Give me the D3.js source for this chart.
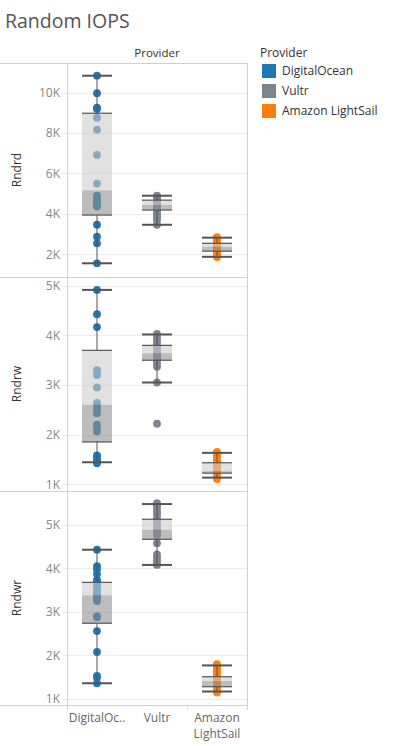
<!DOCTYPE html>
<html>
<head>
<meta charset="utf-8">
<script src="https://cdn.jsdelivr.net/npm/d3@7"></script>
<style>
  body { margin: 0; background: #fff; }
  text { font-family: "Open Sans", sans-serif; }
</style>
</head>
<body>
<div id="chart"></div>
<script>
// providers + colours
var providers = ["DigitalOcean", "Vultr", "Amazon LightSail"],
    providerLabels = [["DigitalOc.."], ["Vultr"], ["Amazon", "LightSail"]],
    colors = ["#1f77b4", "#7b848f", "#ff7f0e"];

var measures = ["Rndrd", "Rndrw", "Rndwr"];

// raw points per provider (IOPS)
var rndrdValues = [
    [10840, 9970, 9260, 9190, 8760, 8160, 6910, 5490, 4890, 4800, 4680, 4600, 4510, 4450, 4350, 3450, 2860, 2530, 1540],
    [4890, 4820, 4740, 4650, 4580, 4500, 4420, 4350, 4260, 4150, 4020, 3920, 3800, 3680, 3450],
    [2830, 2750, 2660, 2570, 2480, 2400, 2310, 2220, 2120, 2020, 1940, 1850]
];
var rndrwValues = [
    [4920, 4430, 4170, 3300, 3250, 3200, 2950, 2640, 2560, 2500, 2430, 2200, 2150, 2060, 1580, 1530, 1480, 1420],
    [4030, 3980, 3920, 3850, 3780, 3720, 3650, 3600, 3560, 3500, 3430, 3370, 3050, 2220],
    [1650, 1600, 1540, 1480, 1450, 1400, 1350, 1300, 1260, 1220, 1180, 1140, 1100]
];
var rndwrValues = [
    [4430, 4050, 3980, 3870, 3740, 3680, 3620, 3560, 3510, 3440, 3380, 3350, 3300, 3250, 2900, 2880, 2560, 2080, 1530, 1490, 1360],
    [5500, 5450, 5380, 5310, 5250, 5180, 5100, 5030, 4960, 4880, 4820, 4760, 4580, 4320, 4250, 4180, 4110, 4080],
    [1800, 1760, 1720, 1660, 1600, 1550, 1500, 1460, 1420, 1380, 1330, 1280, 1240, 1200, 1150]
];

// box stats: [lower whisker, q1, median, q3, upper whisker]
var rndrdBox = [[1540, 3930, 5160, 8980, 10840], [3450, 4180, 4430, 4670, 4890], [1860, 2140, 2360, 2530, 2810]];
var rndrwBox = [[1440, 1850, 2600, 3700, 4920], [3050, 3500, 3640, 3800, 4020], [1130, 1220, 1260, 1430, 1630]];
var rndwrBox = [[1360, 2740, 3380, 3680, 4430], [4080, 4670, 4890, 5130, 5480], [1170, 1280, 1410, 1510, 1770]];

// axis domains + ticks
var yDomains = [[860, 11470], [860, 5180], [860, 5780]],
    rndrdTicks = [2000, 4000, 6000, 8000, 10000],
    rndrwTicks = [1000, 2000, 3000, 4000, 5000],
    rndwrTicks = [1000, 2000, 3000, 4000, 5000];

var allValues = [rndrdValues, rndrwValues, rndwrValues],
    allBoxes = [rndrdBox, rndrwBox, rndwrBox],
    allTicks = [rndrdTicks, rndrwTicks, rndwrTicks];

var w = 399, h = 746;
var left = 67, right = 247, top0 = 63, rowH = 214;

var svg = d3.select("#chart").append("svg")
    .attr("width", w)
    .attr("height", h);

svg.append("rect").attr("width", w).attr("height", h).attr("fill", "#fff");

// title
svg.append("text")
    .attr("x", 5)
    .attr("y", 28)
    .attr("font-size", 19.5)
    .attr("fill", "#555")
    .text("Random IOPS");

var x = d3.scaleBand()
    .domain(providers)
    .range([left, right]);

// column header
svg.append("text")
    .attr("x", (left + right) / 2)
    .attr("y", 57)
    .attr("text-anchor", "middle")
    .attr("font-size", 11.5)
    .attr("fill", "#333")
    .text("Provider");

var fmt = function(d) { return (d / 1000) + "K"; };
var boxW = 30;

measures.forEach(function(m, r) {
    var y0 = top0 + r * rowH;
    var y = d3.scaleLinear()
        .domain(yDomains[r])
        .range([y0 + rowH, y0]);

    var g = svg.append("g");

    // gridlines
    g.selectAll(".grid")
        .data(allTicks[r])
        .enter().append("line")
        .attr("x1", left - 5)
        .attr("x2", right)
        .attr("y1", function(d) { return Math.round(y(d)) + 0.5; })
        .attr("y2", function(d) { return Math.round(y(d)) + 0.5; })
        .attr("stroke", "#ececec");

    // tick labels
    g.selectAll(".tick")
        .data(allTicks[r])
        .enter().append("text")
        .attr("x", 60)
        .attr("y", function(d) { return y(d) + 4.5; })
        .attr("text-anchor", "end")
        .attr("font-size", 12)
        .attr("fill", "#888")
        .text(fmt);

    // row title
    g.append("text")
        .attr("transform", "translate(21," + (y0 + rowH / 2) + ") rotate(-90)")
        .attr("text-anchor", "middle")
        .attr("font-size", 12)
        .attr("fill", "#333")
        .text(m);

    providers.forEach(function(p, i) {
        var cx = x(p) + x.bandwidth() / 2,
            b = allBoxes[r][i];

        // dots
        g.selectAll(".dot" + i)
            .data(allValues[r][i])
            .enter().append("circle")
            .attr("cx", cx)
            .attr("cy", function(d) { return y(d); })
            .attr("r", 3.9)
            .attr("fill", colors[i]);

        // whisker stems
        g.append("line")
            .attr("x1", cx).attr("x2", cx)
            .attr("y1", y(b[0])).attr("y2", y(b[1]))
            .attr("stroke", "#555");
        g.append("line")
            .attr("x1", cx).attr("x2", cx)
            .attr("y1", y(b[3])).attr("y2", y(b[4]))
            .attr("stroke", "#555");

        // box halves
        g.append("rect")
            .attr("x", cx - boxW / 2)
            .attr("width", boxW)
            .attr("y", y(b[3]))
            .attr("height", y(b[2]) - y(b[3]))
            .attr("fill", "#cdcdcd")
            .attr("fill-opacity", 0.6);
        g.append("rect")
            .attr("x", cx - boxW / 2)
            .attr("width", boxW)
            .attr("y", y(b[2]))
            .attr("height", y(b[1]) - y(b[2]))
            .attr("fill", "#919191")
            .attr("fill-opacity", 0.6);

        // box edges
        [b[1], b[3]].forEach(function(v) {
            g.append("line")
                .attr("x1", cx - boxW / 2).attr("x2", cx + boxW / 2)
                .attr("y1", y(v)).attr("y2", y(v))
                .attr("stroke", "#555")
                .attr("stroke-width", 1.2);
        });

        // whisker caps
        [b[0], b[4]].forEach(function(v) {
            g.append("line")
                .attr("x1", cx - boxW / 2).attr("x2", cx + boxW / 2)
                .attr("y1", y(v)).attr("y2", y(v))
                .attr("stroke", "#555")
                .attr("stroke-width", 2);
        });
    });
});

// panel borders
var bottom = top0 + 3 * rowH;
d3.range(4).forEach(function(r) {
    svg.append("line")
        .attr("x1", 0).attr("x2", right)
        .attr("y1", top0 + r * rowH + 0.5).attr("y2", top0 + r * rowH + 0.5)
        .attr("stroke", "#d0d0d0");
});
svg.append("line")
    .attr("x1", left + 0.5).attr("x2", left + 0.5)
    .attr("y1", top0).attr("y2", bottom + 5)
    .attr("stroke", "#d0d0d0");
svg.append("line")
    .attr("x1", right + 0.5).attr("x2", right + 0.5)
    .attr("y1", top0).attr("y2", bottom + 5)
    .attr("stroke", "#d0d0d0");
svg.append("line")
    .attr("x1", x(providers[2]) + 0.5).attr("x2", x(providers[2]) + 0.5)
    .attr("y1", bottom).attr("y2", bottom + 5)
    .attr("stroke", "#e4e4e4");

// x labels
providers.forEach(function(p, i) {
    var t = svg.append("text")
        .attr("x", x(p) + x.bandwidth() / 2)
        .attr("y", 722)
        .attr("text-anchor", "middle")
        .attr("font-size", 12)
        .attr("fill", "#666");
    providerLabels[i].forEach(function(s, k) {
        t.append("tspan")
            .attr("x", x(p) + x.bandwidth() / 2)
            .attr("dy", k === 0 ? 0 : 16)
            .text(s);
    });
});

// legend
var legend = svg.append("g").attr("transform", "translate(260, 0)");
legend.append("text")
    .attr("x", 0)
    .attr("y", 57)
    .attr("font-size", 12)
    .attr("fill", "#333")
    .text("Provider");
providers.forEach(function(p, i) {
    legend.append("rect")
        .attr("x", 2)
        .attr("y", 64 + i * 20)
        .attr("width", 14)
        .attr("height", 14)
        .attr("fill", colors[i]);
    legend.append("text")
        .attr("x", 22)
        .attr("y", 75 + i * 20)
        .attr("font-size", 12)
        .attr("fill", "#333")
        .text(p);
});
</script>
</body>
</html>
